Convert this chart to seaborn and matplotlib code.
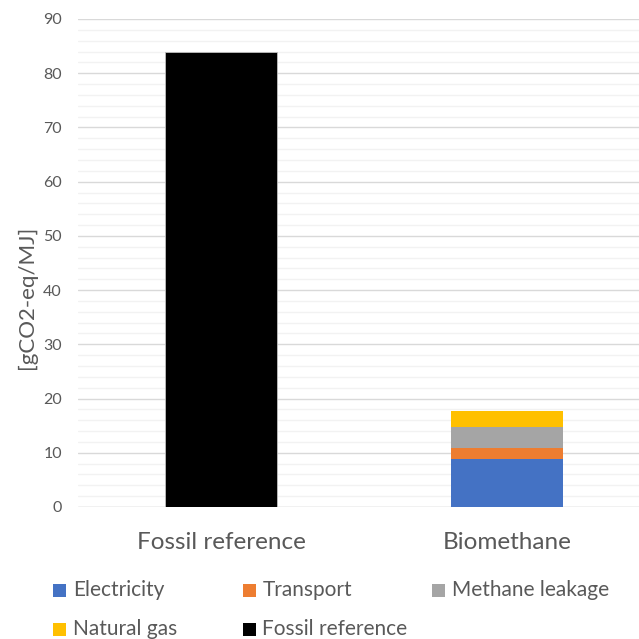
import matplotlib
matplotlib.use("Agg")
import matplotlib.pyplot as plt
import seaborn as sns
import numpy as np
from matplotlib.patches import Rectangle
from matplotlib.ticker import MultipleLocator

categories = ["Fossil reference", "Biomethane"]
electricity = [0.0, 8.8]
transport = [0.0, 2.0]
methane_leakage = [0.0, 4.0]
natural_gas = [0.0, 2.9]
fossil_reference = [84.0, 0.0]

series_names = ["Electricity", "Transport", "Methane leakage", "Natural gas", "Fossil reference"]
colors = ["#4472C4", "#ED7D31", "#A5A5A5", "#FFC000", "#000000"]

sns.set_theme(style="white")
plt.rcParams['font.family'] = ['Lato', 'DejaVu Sans']

W = H = 639
fig = plt.figure(figsize=(6.39, 6.39), dpi=100)
ax = fig.add_axes([78/W, 132/H, 572/W, 488/H])

layers = [electricity, transport, methane_leakage, natural_gas]
cum = np.cumsum(np.array(layers), axis=0)
for i in range(len(layers) - 1, -1, -1):
    sns.barplot(x=categories, y=cum[i], color=colors[i], width=0.395,
                saturation=1, ax=ax, zorder=3, edgecolor="none")
sns.barplot(x=categories, y=fossil_reference, color=colors[4], width=0.395,
            saturation=1, ax=ax, zorder=4, edgecolor="#BFBFBF", linewidth=0.6)

ax.set_ylim(0, 90)
ax.set_xlim(-0.5, 1.5)
ax.yaxis.set_major_locator(MultipleLocator(10))
ax.yaxis.set_minor_locator(MultipleLocator(2))
ax.grid(which="major", axis="y", color="#D9D9D9", linewidth=1.0, zorder=0)
ax.grid(which="minor", axis="y", color="#F2F2F2", linewidth=1.0, zorder=0)
ax.set_axisbelow(True)
for s in ax.spines.values():
    s.set_visible(False)
ax.axhline(0, color="#D9D9D9", linewidth=1.0, zorder=2)
ax.tick_params(axis="y", which="both", length=0, pad=11.5, labelsize=11.5, labelcolor="#595959")
ax.tick_params(axis="x", length=0, pad=18, labelsize=17.5, labelcolor="#595959")
ax.set_ylabel("[gCO2-eq/MJ]", fontsize=16, color="#595959")
ax.yaxis.set_label_coords(-(78 - 37) / 572, (507 - 297) / 488)
ax.set_xlabel("")

# legend laid out in an Excel-like uniform grid
x0, dx = 53, 189.5
rows_y = [590, 629]
sq = 13
for k, idx in enumerate(range(len(series_names))):
    r, c = divmod(k, 3)
    xs = x0 + c * dx
    yc = rows_y[r]
    fig.patches.append(Rectangle((xs / W, 1 - (yc + sq / 2) / H), sq / W, sq / H,
                                 transform=fig.transFigure, facecolor=colors[idx],
                                 edgecolor="none", figure=fig))
    fig.text((xs + sq + 7) / W, 1 - yc / H, series_names[idx], fontsize=15,
             color="#595959", va="center", ha="left")

fig.savefig("out.png", dpi=100)
